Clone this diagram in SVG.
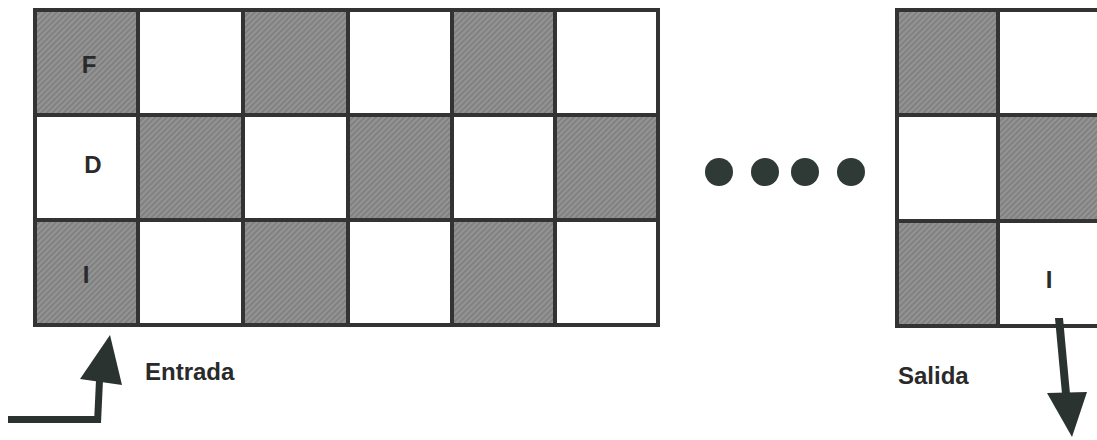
<svg xmlns="http://www.w3.org/2000/svg" width="1097" height="440" viewBox="0 0 1097 440">
<style>
.g{fill:url(#tex);stroke:#333;stroke-width:4}
.w{fill:#fff;stroke:#333;stroke-width:4}
.lbl{font-family:"Liberation Sans",Arial,sans-serif;font-weight:bold;font-size:24px;fill:#2a2a2a}
.arr{fill:#2b3330}
.dot{fill:#2f3a36}
</style>
<defs>
<pattern id="tex" width="4" height="4" patternUnits="userSpaceOnUse" patternTransform="rotate(45)">
<rect width="4" height="4" fill="#939393"/>
<rect width="1.5" height="4" fill="#7c7c7c"/>
</pattern>
</defs>
<g id="grid-left">
<g id="c00"><rect class="g" x="35" y="10" width="103" height="105"/><text class="lbl" x="89" y="73" text-anchor="middle">F</text></g>
<g id="c01"><rect class="w" x="138" y="10" width="105" height="105"/></g>
<g id="c02"><rect class="g" x="243" y="10" width="105" height="105"/></g>
<g id="c03"><rect class="w" x="348" y="10" width="104" height="105"/></g>
<g id="c04"><rect class="g" x="452" y="10" width="103" height="105"/></g>
<g id="c05"><rect class="w" x="555" y="10" width="103" height="105"/></g>
<g id="c10"><rect class="w" x="35" y="115" width="103" height="105"/><text class="lbl" x="93" y="173" text-anchor="middle">D</text></g>
<g id="c11"><rect class="g" x="138" y="115" width="105" height="105"/></g>
<g id="c12"><rect class="w" x="243" y="115" width="105" height="105"/></g>
<g id="c13"><rect class="g" x="348" y="115" width="104" height="105"/></g>
<g id="c14"><rect class="w" x="452" y="115" width="103" height="105"/></g>
<g id="c15"><rect class="g" x="555" y="115" width="103" height="105"/></g>
<g id="c20"><rect class="g" x="35" y="220" width="103" height="105"/><text class="lbl" x="86" y="283" text-anchor="middle">I</text></g>
<g id="c21"><rect class="w" x="138" y="220" width="105" height="105"/></g>
<g id="c22"><rect class="g" x="243" y="220" width="105" height="105"/></g>
<g id="c23"><rect class="w" x="348" y="220" width="104" height="105"/></g>
<g id="c24"><rect class="g" x="452" y="220" width="103" height="105"/></g>
<g id="c25"><rect class="w" x="555" y="220" width="103" height="105"/></g>
</g>
<g id="grid-right">
<g id="r00"><rect class="g" x="897" y="10" width="101" height="105"/></g>
<g id="r01"><rect class="w" x="998" y="10" width="110" height="105"/></g>
<g id="r10"><rect class="w" x="897" y="115" width="101" height="106"/></g>
<g id="r11"><rect class="g" x="998" y="115" width="110" height="106"/></g>
<g id="r20"><rect class="g" x="897" y="221" width="101" height="105"/></g>
<g id="r21"><rect class="w" x="998" y="221" width="110" height="105"/><text class="lbl" x="1049" y="288" text-anchor="middle">I</text></g>
</g>
<g id="ellipsis">
<circle class="dot" cx="719" cy="172" r="14"/>
<circle class="dot" cx="765" cy="172" r="14"/>
<circle class="dot" cx="805" cy="172" r="14"/>
<circle class="dot" cx="851" cy="172" r="14"/>
</g>
<g id="connectors">
<g id="entrada-arrow">
<rect class="arr" x="8" y="416" width="93" height="7"/>
<polygon class="arr" points="94,423 101,423 103,380 96,380"/>
<polygon class="arr" points="110,335 80,379 122,385"/>
</g>
<g id="salida-arrow">
<polygon class="arr" points="1055,318 1063,318 1070,394 1062,394"/>
<polygon class="arr" points="1047,393 1087,392 1072,437"/>
</g>
</g>
<text id="entrada" class="lbl" x="145" y="380">Entrada</text>
<text id="salida" class="lbl" x="898" y="384">Salida</text>
</svg>
